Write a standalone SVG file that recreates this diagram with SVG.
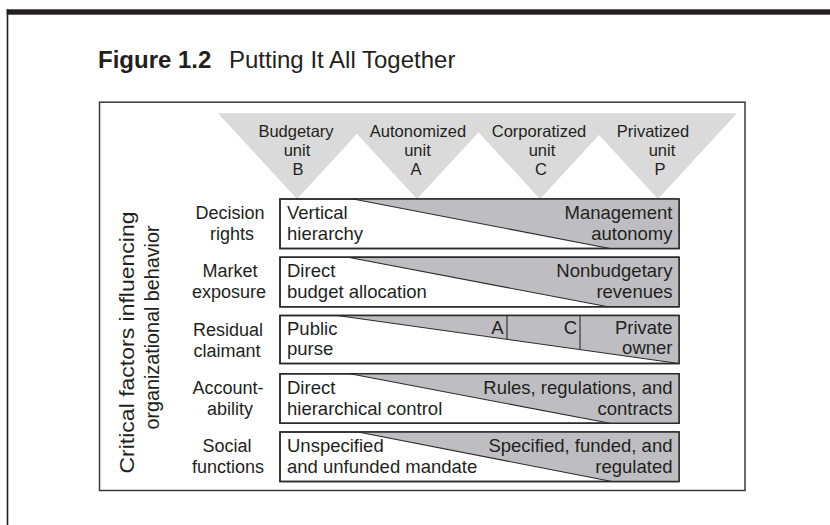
<svg xmlns="http://www.w3.org/2000/svg" width="830" height="525" viewBox="0 0 830 525">
<style>
text{font-family:"Liberation Sans",Arial,sans-serif;fill:#231f20}
.title{font-size:24px}
.tri{fill:#dadada}
.tl{font-size:16.5px;text-anchor:middle}
.lbl{font-size:18px;text-anchor:middle}
.bt{font-size:18.5px}
.r{text-anchor:end}
.box{fill:#ffffff;stroke:#2b2b2b;stroke-width:1.5}
.shade{fill:#bebec2}
.diag{stroke:#2b2b2b;stroke-width:1.1;fill:none}
.side{font-size:21px;text-anchor:middle}
</style>
<rect x="0" y="0" width="830" height="525" fill="#ffffff"/>
<rect x="6.7" y="9.3" width="823.3" height="5.4" fill="#231f20"/>
<line x1="7.5" y1="9.3" x2="7.5" y2="525" stroke="#231f20" stroke-width="1.6"/>
<g id="title">
<text class="title" x="98" y="68" font-weight="bold">Figure 1.2</text>
<text class="title" x="229" y="68">Putting It All Together</text>
</g>
<rect id="frame" x="99.5" y="102.2" width="645.5" height="388.3" fill="none" stroke="#3a3a3a" stroke-width="1.5"/>
<g id="unit-B">
<polygon class="tri" points="218,113.3 376,113.3 297,199"/>
<text class="tl" x="296" y="137">Budgetary</text>
<text class="tl" x="297" y="156">unit</text>
<text class="tl" x="298" y="175">B</text>
</g>
<g id="unit-A">
<polygon class="tri" points="338,113.3 496,113.3 417,199"/>
<text class="tl" x="418" y="137">Autonomized</text>
<text class="tl" x="417.5" y="156">unit</text>
<text class="tl" x="416" y="175">A</text>
</g>
<g id="unit-C">
<polygon class="tri" points="461,113.3 619,113.3 540,199"/>
<text class="tl" x="539" y="137">Corporatized</text>
<text class="tl" x="542" y="156">unit</text>
<text class="tl" x="541" y="175">C</text>
</g>
<g id="unit-P">
<polygon class="tri" points="579,113.3 737,113.3 658,199"/>
<text class="tl" x="653" y="137">Privatized</text>
<text class="tl" x="662" y="156">unit</text>
<text class="tl" x="660" y="175">P</text>
</g>
<g id="axis-label">
<text class="side" transform="translate(133.5,342.5) rotate(-90)" textLength="262" lengthAdjust="spacingAndGlyphs">Critical factors influencing</text>
<text class="side" transform="translate(158.5,327.5) rotate(-90)" textLength="204" lengthAdjust="spacingAndGlyphs">organizational behavior</text>
</g>
<g id="row-decision-rights">
<text class="lbl" x="230" y="219">Decision</text>
<text class="lbl" x="232" y="240">rights</text>
<rect class="box" x="280" y="199" width="399" height="49.5"/>
<polygon class="shade" points="353,199 679,199 679,248.5 610,248.5"/>
<line class="diag" x1="353" y1="199" x2="610" y2="248.5"/>
<rect x="280" y="199" width="399" height="49.5" fill="none" stroke="#2b2b2b" stroke-width="1.5"/>
<text class="bt" x="287" y="219">Vertical</text>
<text class="bt" x="287" y="240">hierarchy</text>
<text class="bt r" x="672.5" y="219">Management</text>
<text class="bt r" x="672.5" y="240">autonomy</text>
</g>
<g id="row-market-exposure">
<text class="lbl" x="230" y="277.25">Market</text>
<text class="lbl" x="229" y="298.25">exposure</text>
<rect class="box" x="280" y="257.25" width="399" height="49.5"/>
<polygon class="shade" points="348,257.25 679,257.25 679,306.75 608,306.75"/>
<line class="diag" x1="348" y1="257.25" x2="608" y2="306.75"/>
<rect x="280" y="257.25" width="399" height="49.5" fill="none" stroke="#2b2b2b" stroke-width="1.5"/>
<text class="bt" x="287" y="277.25">Direct</text>
<text class="bt" x="287" y="298.25">budget allocation</text>
<text class="bt r" x="672.5" y="277.25">Nonbudgetary</text>
<text class="bt r" x="672.5" y="298.25">revenues</text>
</g>
<g id="row-residual-claimant">
<text class="lbl" x="228" y="335.5">Residual</text>
<text class="lbl" x="227" y="356.5">claimant</text>
<rect class="box" x="280" y="315.5" width="399" height="48"/>
<polygon class="shade" points="337,315.5 679,315.5 679,363.5"/>
<line class="diag" x1="337" y1="315.5" x2="679" y2="363.5"/>
<line class="diag" x1="507" y1="315.5" x2="507" y2="339.4"/>
<line class="diag" x1="580" y1="315.5" x2="580" y2="349.6"/>
<rect x="280" y="315.5" width="399" height="48" fill="none" stroke="#2b2b2b" stroke-width="1.5"/>
<text class="bt" x="287" y="335">Public</text>
<text class="bt" x="287" y="355">purse</text>
<text class="bt r" x="503.5" y="334">A</text>
<text class="bt r" x="577" y="334">C</text>
<text class="bt r" x="672.5" y="334">Private</text>
<text class="bt r" x="672.5" y="354">owner</text>
</g>
<g id="row-accountability">
<text class="lbl" x="228" y="393.75">Account-</text>
<text class="lbl" x="230" y="414.75">ability</text>
<rect class="box" x="280" y="373.75" width="399" height="49.5"/>
<polygon class="shade" points="350,373.75 679,373.75 679,423.25 610,423.25"/>
<line class="diag" x1="350" y1="373.75" x2="610" y2="423.25"/>
<rect x="280" y="373.75" width="399" height="49.5" fill="none" stroke="#2b2b2b" stroke-width="1.5"/>
<text class="bt" x="287" y="393.75">Direct</text>
<text class="bt" x="287" y="414.75">hierarchical control</text>
<text class="bt r" x="672.5" y="393.75">Rules, regulations, and</text>
<text class="bt r" x="672.5" y="414.75">contracts</text>
</g>
<g id="row-social-functions">
<text class="lbl" x="227" y="452">Social</text>
<text class="lbl" x="228" y="473">functions</text>
<rect class="box" x="280" y="432" width="399" height="49.5"/>
<polygon class="shade" points="358,432 679,432 679,481.5 612,481.5"/>
<line class="diag" x1="358" y1="432" x2="612" y2="481.5"/>
<rect x="280" y="432" width="399" height="49.5" fill="none" stroke="#2b2b2b" stroke-width="1.5"/>
<text class="bt" x="287" y="452">Unspecified</text>
<text class="bt" x="287" y="473">and unfunded mandate</text>
<text class="bt r" x="672.5" y="452">Specified, funded, and</text>
<text class="bt r" x="672.5" y="473">regulated</text>
</g>
<g id="connectors"></g>
</svg>
